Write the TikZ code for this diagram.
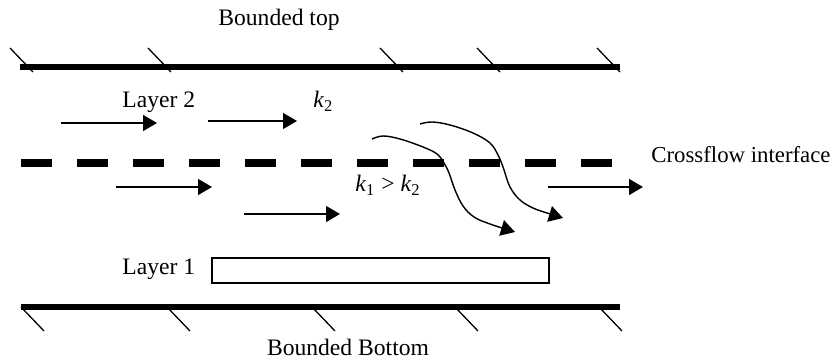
\documentclass[tikz,border=0pt]{standalone}
\usepackage{fontspec}
\setmainfont{Liberation Serif}
\usetikzlibrary{arrows.meta}
\begin{document}
\begin{tikzpicture}[x=0.5pt,y=-0.5pt,
  lbl/.style={inner sep=0pt,font=\fontsize{11.8}{14}\selectfont},
  wall/.style={line width=3pt},
  hatch/.style={line width=0.65pt},
  flow/.style={line width=0.7pt,-{Triangle[length=7pt,width=8pt]}},
  iface/.style={line width=3.75pt,dash pattern=on 15.5pt off 12.5pt},
  layerbox/.style={draw,line width=0.8pt,inner sep=0pt,minimum width=168.5pt,minimum height=12.5pt}]
\useasboundingbox (0,0) rectangle (838,362);
% texts
\node[lbl,anchor=base] (btop) at (279,26) {Bounded top};
\node[lbl,anchor=base west] (lay2) at (122,108) {Layer 2};
\node[lbl,anchor=base west] (k2) at (313,108) {\textit{k}\textsubscript{2}};
\node[lbl,anchor=base west] (k1k2) at (355,192) {\textit{k}\textsubscript{1} > \textit{k}\textsubscript{2}};
\node[lbl,anchor=base west,font=\fontsize{11.4}{14}\selectfont] (cross) at (651,163) {Crossflow interface};
\node[lbl,anchor=base west] (lay1) at (122,275) {Layer 1};
\node[lbl,anchor=base] (bbot) at (348,356) {Bounded Bottom};
\node[layerbox] (box1) at (380.5,270.5) {};
% walls
\coordinate (tl) at (20,67); \coordinate (tr) at (620,67);
\coordinate (bl) at (21,307); \coordinate (br) at (620,307);
\draw[wall] (tl) -- (tr);
\draw[wall] (bl) -- (br);
\foreach \x in {10,148,380,477,597} \draw[hatch] (\x,48) -- ++(23,24);
\foreach \x in {21,167,312,455,599} \draw[hatch] (\x,307) -- ++(23,24);
% interface
\coordinate (il) at (21,163); \coordinate (ir) at (612,163);
\draw[iface] (il) -- (ir);
% straight flow arrows
\coordinate (a1s) at (61,123);  \coordinate (a1e) at (157,123);
\coordinate (a2s) at (208,121); \coordinate (a2e) at (297,121);
\coordinate (a3s) at (116,187); \coordinate (a3e) at (212,187);
\coordinate (a4s) at (244,214); \coordinate (a4e) at (340,214);
\coordinate (a5s) at (548,187); \coordinate (a5e) at (643,187);
\draw[flow] (a1s) -- (a1e);
\draw[flow] (a2s) -- (a2e);
\draw[flow] (a3s) -- (a3e);
\draw[flow] (a4s) -- (a4e);
\draw[flow] (a5s) -- (a5e);
% crossing curves
\coordinate (c1s) at (372,139); \coordinate (c1e) at (515,232);
\coordinate (c2s) at (420,124); \coordinate (c2e) at (563,218);
\draw[flow] plot[smooth,tension=0.6] coordinates {(c1s) (383,136) (400,139) (423,147) (437,154) (444,163) (449,173) (455,190) (463,206) (474,217) (490,224) (c1e)};
\draw[flow] plot[smooth,tension=0.6] coordinates {(c2s) (432,122) (450,125) (473,133) (490,143) (498,155) (503,167) (510,187) (520,200) (533,208) (547,213) (c2e)};
\end{tikzpicture}
\end{document}
